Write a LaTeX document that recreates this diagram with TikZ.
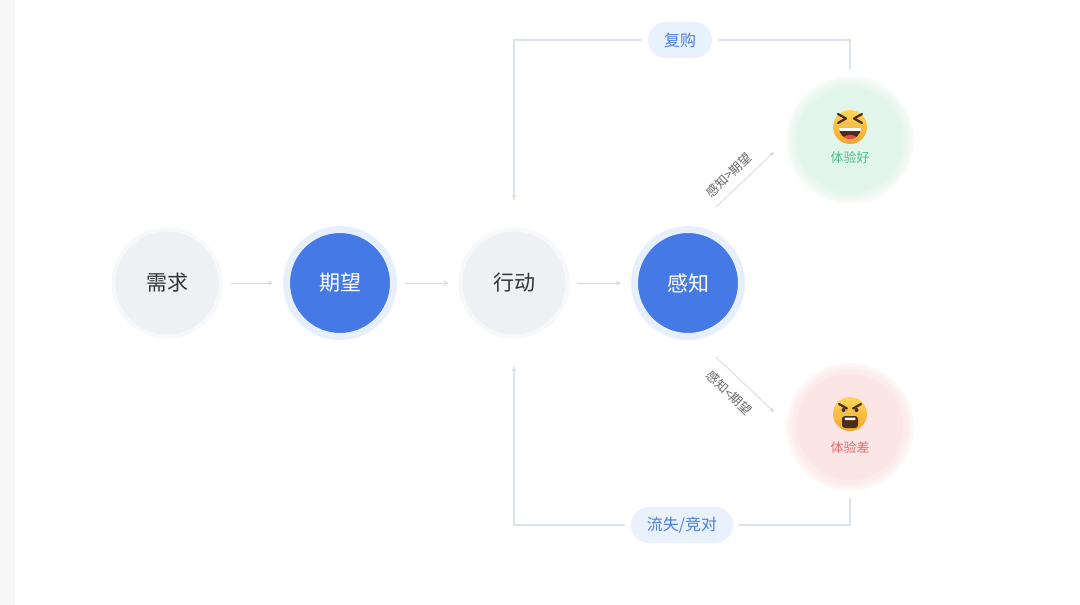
\documentclass[tikz,border=0pt]{standalone}
\usepackage{fontspec}
\setmainfont{Noto Sans CJK SC}
\usetikzlibrary{arrows.meta}
\definecolor{greyfill}{HTML}{EEF0F3}
\definecolor{greyhalo}{HTML}{F6F8FA}
\definecolor{bluefill}{HTML}{4479E6}
\definecolor{bluehalo}{HTML}{E7EFFC}
\definecolor{greenfill}{HTML}{E2F5EB}
\definecolor{greentext}{HTML}{4CBF8B}
\definecolor{redfill}{HTML}{FCE5E5}
\definecolor{redtext}{HTML}{E56B6B}
\definecolor{pillfill}{HTML}{E9F1FD}
\definecolor{pilltext}{HTML}{4A7FE0}
\definecolor{linecol}{HTML}{DCE3EC}
\definecolor{arrowcol}{HTML}{D5D9DF}
\definecolor{darktext}{HTML}{333333}
\definecolor{labeltext}{HTML}{666666}
\definecolor{facetop}{HTML}{FBD75B}
\definecolor{facebot}{HTML}{F3A52A}
\definecolor{facedark}{HTML}{4A2E1A}
\definecolor{tongue}{HTML}{E9475A}
\definecolor{stripcol}{HTML}{F7F7F8}
\tikzset{
  greycirc/.style={circle, minimum size=107pt, fill=greyfill, draw=greyhalo, line width=4pt, text=darktext, font=\fontsize{21}{24}\selectfont},
  bluecirc/.style={circle, minimum size=107pt, fill=bluefill, draw=bluehalo, line width=7pt, text=white, font=\fontsize{21}{24}\selectfont},
  goodcirc/.style={circle, minimum size=106pt, fill=greenfill},
  badcirc/.style={circle, minimum size=106pt, fill=redfill},
  pill/.style={rounded corners=18pt, fill=pillfill, text=pilltext, minimum height=36pt, inner xsep=16pt, font=\fontsize{16}{18}\selectfont},
  flowarrow/.style={draw=arrowcol, line width=0.8pt, -{Stealth[length=5pt,width=4.5pt]}},
  loopline/.style={draw=linecol, line width=1.3pt},
  looparrow/.style={draw=linecol, line width=1.3pt, -{Stealth[length=6pt,width=5pt]}},
  diagarrow/.style={draw=arrowcol, line width=0.8pt, -{Stealth[length=5pt,width=4.5pt]}},
  diaglabel/.style={text=labeltext, font=\fontsize{12.5}{14}\selectfont, inner sep=0.5pt},
}
\begin{document}
\begin{tikzpicture}[x=1pt,y=-1pt]
\useasboundingbox (0,0) rectangle (1080,605);
\fill[white] (0,0) rectangle (1080,605);
\fill[stripcol] (0,0) rectangle (15,605);

% main nodes
\node[greycirc] (xuqiu) at (167,283) {需求};
\node[bluecirc] (qiwang) at (340,283) {期望};
\node[greycirc] (xingdong) at (514,283) {行动};
\node[bluecirc] (ganzhi) at (688,283) {感知};

% soft glows
\foreach \r in {64,62,60,58,56}{
  \fill[greenfill, opacity=0.22] (850,140) circle (\r);
  \fill[redfill, opacity=0.22] (850,427) circle (\r);
}
\node[goodcirc] (good) at (850,140) {};
\node[badcirc] (bad) at (850,427) {};

\node[text=greentext, font=\fontsize{13}{15}\selectfont] (goodtxt) at (850,158) {体验好};
\node[text=redtext, font=\fontsize{13}{15}\selectfont] (badtxt) at (850,447) {体验差};

% happy face
\shade[top color=facetop, bottom color=facebot] (850,127) circle (17);
\draw[facedark, line width=2.2pt, line cap=round, line join=round] (838,114) -- (846,118.5) -- (838,123);
\draw[facedark, line width=2.2pt, line cap=round, line join=round] (862,114) -- (854,118.5) -- (862,123);
\begin{scope}
  \clip (836,128) rectangle (864,146);
  \clip (850,128) circle (11);
  \fill[facedark] (850,128) circle (11);
  \fill[tongue] (850,140) ellipse (8 and 5);
  \fill[white] (838,128) rectangle (862,130.5);
\end{scope}

% angry face
\shade[top color=facetop, bottom color=facebot] (850,414) circle (17);
\draw[facedark, line width=2.2pt, line cap=round] (839,404) -- (847,408.5);
\draw[facedark, line width=2.2pt, line cap=round] (861,404) -- (853,408.5);
\fill[facedark] (843.5,410) circle (2);
\fill[facedark] (856.5,410) circle (2);
\fill[facedark, rounded corners=3pt] (842,416) rectangle (858,428);
\fill[white, rounded corners=1pt] (844.5,417.5) rectangle (855.5,420);

% flow arrows
\draw[flowarrow, shorten <=8pt, shorten >=10pt] (xuqiu) -- (qiwang);
\draw[flowarrow, shorten <=8pt, shorten >=10pt] (qiwang) -- (xingdong);
\draw[flowarrow, shorten <=8pt, shorten >=10pt] (xingdong) -- (ganzhi);

% pills
\node[pill] (fugou) at (680,40) {复购};
\node[pill] (liushi) at (682,525) {流失/竞对};

% loops
\draw[loopline, shorten <=18pt, shorten >=6pt] (good.north) |- (fugou.east);
\draw[looparrow, shorten <=6pt, shorten >=27pt] (fugou.west) -| (xingdong.north);
\draw[loopline, shorten <=18pt, shorten >=6pt] (bad.south) |- (liushi.east);
\draw[looparrow, shorten <=6pt, shorten >=27pt] (liushi.west) -| (xingdong.south);

% diagonal arrows
\coordinate (d1s) at (716,207);
\coordinate (d1e) at (774,152);
\draw[diagarrow] (d1s) -- (d1e);
\node[diaglabel, rotate=43.5] (lab1) at (729,175) {感知>期望};
\coordinate (d2s) at (716,357);
\coordinate (d2e) at (774,412);
\draw[diagarrow] (d2s) -- (d2e);
\node[diaglabel, rotate=-43.5] (lab2) at (729,393) {感知<期望};
\end{tikzpicture}
\end{document}
